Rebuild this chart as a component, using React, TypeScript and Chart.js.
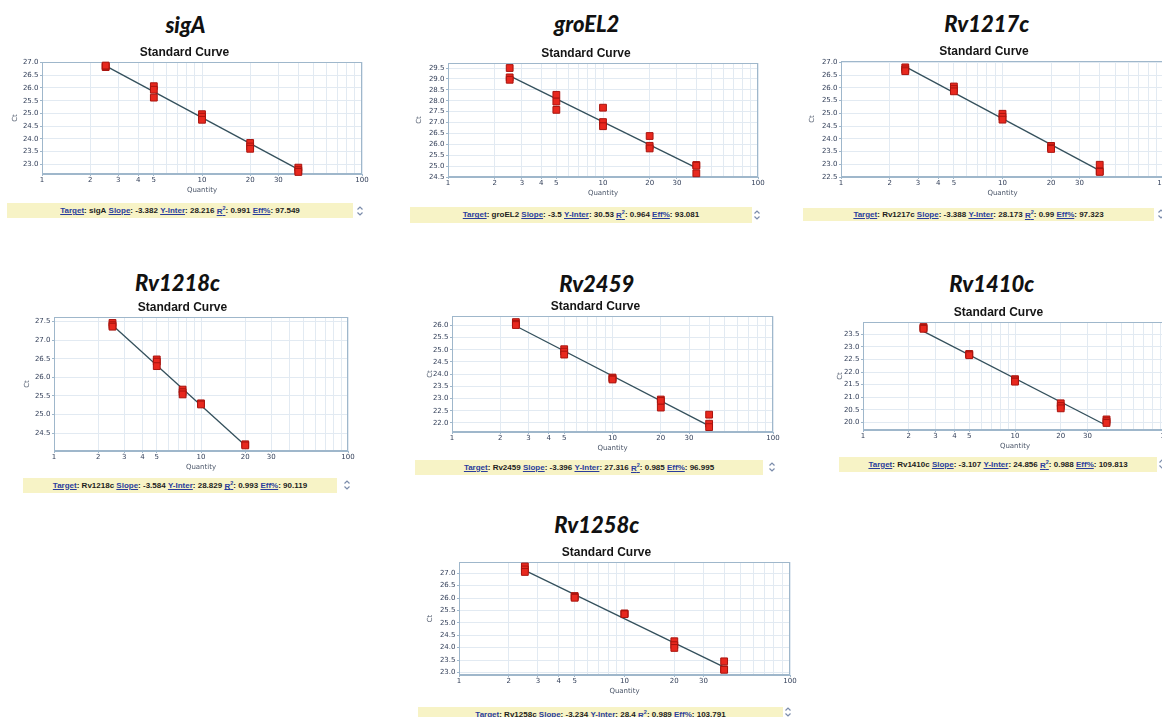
import React, { useEffect, useRef } from "react";
import { Chart, registerables } from "chart.js";
Chart.register(...registerables);

// ---------- shared axis data ----------
const xGridValues = [1, 2, 3, 4, 5, 6, 7, 8, 9, 10, 20, 30, 40, 50, 60, 70, 80, 90, 100];
const xTickLabels = [1, 2, 3, 4, 5, 10, 20, 30, 100];
const xRange = [1, 100];

// ---------- sigA ----------
const sigA_qty = [2.5, 2.5, 2.5, 5, 5, 5, 10, 10, 10, 20, 20, 20, 40, 40, 40];
const sigA_ct = [26.82, 26.85, 26.88, 26.07, 25.93, 25.62, 24.97, 24.87, 24.75, 23.84, 23.7, 23.61, 22.87, 22.77, 22.7];
const sigA_fitQty = [2.5, 40];
const sigA_fitCt = [26.87, 22.8];
const sigA_yRange = [22.62, 27.02];
const sigA_yTicks = [23.0, 23.5, 24.0, 24.5, 25.0, 25.5, 26.0, 26.5, 27.0];
const sigA_stats = ["-3.382", "28.216", "0.991", "97.549"];

// ---------- groEL2 ----------
const groEL2_qty = [2.5, 2.5, 2.5, 5, 5, 5, 10, 10, 10, 20, 20, 20, 40, 40, 40];
const groEL2_ct = [29.5, 29.07, 28.96, 28.27, 27.96, 27.58, 27.68, 27.02, 26.83, 26.38, 25.93, 25.81, 25.05, 25.02, 24.67];
const groEL2_fitQty = [2.5, 40];
const groEL2_fitCt = [29.14, 24.92];
const groEL2_yRange = [24.5, 29.73];
const groEL2_yTicks = [24.5, 25.0, 25.5, 26.0, 26.5, 27.0, 27.5, 28.0, 28.5, 29.0, 29.5];
const groEL2_stats = ["-3.5", "30.53", "0.964", "93.081"];

// ---------- Rv1217c ----------
const Rv1217c_qty = [2.5, 2.5, 2.5, 5, 5, 5, 10, 10, 10, 20, 20, 20, 40, 40, 40];
const Rv1217c_ct = [26.8, 26.72, 26.65, 26.05, 25.95, 25.86, 24.98, 24.86, 24.75, 23.72, 23.65, 23.6, 22.98, 22.72, 22.7];
const Rv1217c_fitQty = [2.5, 40];
const Rv1217c_fitCt = [26.83, 22.75];
const Rv1217c_yRange = [22.5, 27.05];
const Rv1217c_yTicks = [22.5, 23.0, 23.5, 24.0, 24.5, 25.0, 25.5, 26.0, 26.5, 27.0];
const Rv1217c_stats = ["-3.388", "28.173", "0.99", "97.323"];

// ---------- Rv1218c ----------
const Rv1218c_qty = [2.5, 2.5, 2.5, 5, 5, 5, 7.5, 7.5, 7.5, 10, 10, 20, 20];
const Rv1218c_ct = [27.46, 27.4, 27.36, 26.48, 26.42, 26.3, 25.67, 25.6, 25.54, 25.3, 25.27, 24.2, 24.17];
const Rv1218c_fitQty = [2.5, 20];
const Rv1218c_fitCt = [27.4, 24.17];
const Rv1218c_yRange = [24.02, 27.62];
const Rv1218c_yTicks = [24.5, 25.0, 25.5, 26.0, 26.5, 27.0, 27.5];
const Rv1218c_stats = ["-3.584", "28.829", "0.993", "90.119"];

// ---------- Rv2459 ----------
const Rv2459_qty = [2.5, 2.5, 2.5, 5, 5, 5, 10, 10, 10, 20, 20, 20, 40, 40, 40];
const Rv2459_ct = [26.13, 26.06, 26.01, 25.02, 24.92, 24.8, 23.86, 23.82, 23.78, 22.96, 22.9, 22.63, 22.34, 21.97, 21.83];
const Rv2459_fitQty = [2.5, 40];
const Rv2459_fitCt = [25.97, 21.88];
const Rv2459_yRange = [21.63, 26.38];
const Rv2459_yTicks = [22.0, 22.5, 23.0, 23.5, 24.0, 24.5, 25.0, 25.5, 26.0];
const Rv2459_stats = ["-3.396", "27.316", "0.985", "96.995"];

// ---------- Rv1410c ----------
const Rv1410c_qty = [2.5, 2.5, 2.5, 5, 5, 5, 10, 10, 10, 20, 20, 20, 40, 40, 40];
const Rv1410c_ct = [23.79, 23.75, 23.72, 22.72, 22.7, 22.67, 21.72, 21.67, 21.62, 20.76, 20.65, 20.56, 20.12, 20.05, 19.98];
const Rv1410c_fitQty = [2.5, 40];
const Rv1410c_fitCt = [23.62, 19.88];
const Rv1410c_yRange = [19.7, 23.99];
const Rv1410c_yTicks = [20.0, 20.5, 21.0, 21.5, 22.0, 22.5, 23.0, 23.5];
const Rv1410c_stats = ["-3.107", "24.856", "0.988", "109.813"];

// ---------- Rv1258c ----------
const Rv1258c_qty = [2.5, 2.5, 2.5, 5, 5, 5, 10, 10, 10, 20, 20, 20, 40, 40, 40];
const Rv1258c_ct = [27.27, 27.15, 27.05, 26.08, 26.04, 26.01, 25.38, 25.36, 25.35, 24.26, 24.1, 23.99, 23.45, 23.13, 23.11];
const Rv1258c_fitQty = [2.5, 40];
const Rv1258c_fitCt = [27.11, 23.22];
const Rv1258c_yRange = [22.9, 27.45];
const Rv1258c_yTicks = [23.0, 23.5, 24.0, 24.5, 25.0, 25.5, 26.0, 26.5, 27.0];
const Rv1258c_stats = ["-3.234", "28.4", "0.989", "103.791"];

// ---------- styles ----------
const FONT_UI = "'DejaVu Sans', Verdana, sans-serif";
const FONT_HEAD = "'Liberation Sans', Arial, sans-serif";
const FONT_GENE = "Lato, 'Open Sans', sans-serif";
const AXIS_COLOR = "#9fb7cb";
const GRID_COLOR = "#e2eaf2";
const TICK_TEXT = "#34405a";
const AXIS_TITLE = "#4a5568";
const POINT_FILL = "#e8281e";
const POINT_EDGE = "#a8140e";
const LINE_COLOR = "#34505c";
const BAR_BG = "#f7f3c6";
const LINK = "#2a3d9c";

type Box = { l: number; t: number; r: number; b: number };
type Layout = {
  plot: Box;
  tcx: number;
  ctX: number;
  gene: { cx: number; base: number };
  bar: Box;
  spin: { x: number; y: number };
};

const layouts: Record<string, Layout> = {
  sigA: { plot: { l: 41.7, t: 61.7, r: 361.7, b: 174.3 }, tcx: 184.2, ctX: 15, gene: { cx: 185.5, base: 33 }, bar: { l: 7, t: 203, r: 353, b: 218 }, spin: { x: 360, y: 210.5 } },
  groEL2: { plot: { l: 447.7, t: 63.3, r: 757.7, b: 176.7 }, tcx: 585.8, ctX: 419.3, gene: { cx: 586.7, base: 32.5 }, bar: { l: 410, t: 207, r: 752, b: 222.5 }, spin: { x: 756.7, y: 215 } },
  Rv1217c: { plot: { l: 841, t: 61, r: 1164.3, b: 176.7 }, tcx: 984.2, ctX: 811.7, gene: { cx: 986.7, base: 32.5 }, bar: { l: 803, t: 207.5, r: 1154, b: 221 }, spin: { x: 1161, y: 214 } },
  Rv1218c: { plot: { l: 53.7, t: 317.3, r: 347.7, b: 451 }, tcx: 182.5, ctX: 26.7, gene: { cx: 177.5, base: 291.5 }, bar: { l: 23, t: 477.5, r: 337, b: 492.5 }, spin: { x: 346.7, y: 485 } },
  Rv2459: { plot: { l: 452.3, t: 316, r: 773.3, b: 431.7 }, tcx: 595.8, ctX: 430, gene: { cx: 596.7, base: 292 }, bar: { l: 415, t: 459.5, r: 763, b: 475 }, spin: { x: 771.7, y: 467 } },
  Rv1410c: { plot: { l: 863.3, t: 321.7, r: 1166.7, b: 430 }, tcx: 998.3, ctX: 840, gene: { cx: 991.7, base: 292 }, bar: { l: 839, t: 457, r: 1157, b: 471.5 }, spin: { x: 1161.7, y: 464 } },
  Rv1258c: { plot: { l: 459, t: 561.7, r: 790, b: 675 }, tcx: 606.7, ctX: 430, gene: { cx: 596.7, base: 533 }, bar: { l: 418, t: 707, r: 783, b: 722 }, spin: { x: 788, y: 712 } },
};

type PanelSpec = {
  gene: string;
  qty: number[];
  ct: number[];
  fitQty: number[];
  fitCt: number[];
  yRange: number[];
  yTicks: number[];
  stats: string[];
};

const panels: PanelSpec[] = [
  { gene: "sigA", qty: sigA_qty, ct: sigA_ct, fitQty: sigA_fitQty, fitCt: sigA_fitCt, yRange: sigA_yRange, yTicks: sigA_yTicks, stats: sigA_stats },
  { gene: "groEL2", qty: groEL2_qty, ct: groEL2_ct, fitQty: groEL2_fitQty, fitCt: groEL2_fitCt, yRange: groEL2_yRange, yTicks: groEL2_yTicks, stats: groEL2_stats },
  { gene: "Rv1217c", qty: Rv1217c_qty, ct: Rv1217c_ct, fitQty: Rv1217c_fitQty, fitCt: Rv1217c_fitCt, yRange: Rv1217c_yRange, yTicks: Rv1217c_yTicks, stats: Rv1217c_stats },
  { gene: "Rv1218c", qty: Rv1218c_qty, ct: Rv1218c_ct, fitQty: Rv1218c_fitQty, fitCt: Rv1218c_fitCt, yRange: Rv1218c_yRange, yTicks: Rv1218c_yTicks, stats: Rv1218c_stats },
  { gene: "Rv2459", qty: Rv2459_qty, ct: Rv2459_ct, fitQty: Rv2459_fitQty, fitCt: Rv2459_fitCt, yRange: Rv2459_yRange, yTicks: Rv2459_yTicks, stats: Rv2459_stats },
  { gene: "Rv1410c", qty: Rv1410c_qty, ct: Rv1410c_ct, fitQty: Rv1410c_fitQty, fitCt: Rv1410c_fitCt, yRange: Rv1410c_yRange, yTicks: Rv1410c_yTicks, stats: Rv1410c_stats },
  { gene: "Rv1258c", qty: Rv1258c_qty, ct: Rv1258c_ct, fitQty: Rv1258c_fitQty, fitCt: Rv1258c_fitCt, yRange: Rv1258c_yRange, yTicks: Rv1258c_yTicks, stats: Rv1258c_stats },
];

const TITLE_H = 19; // 12 font + 4 top + 3 bottom
const XAXIS_H = 21;
const PAD_R = 12;

const framePlugin = {
  id: "frame",
  beforeDatasetsDraw(chart: any) {
    const { ctx, chartArea } = chart;
    const l = Math.round(chartArea.left) + 0.5;
    const t = Math.round(chartArea.top) + 0.5;
    const r = Math.round(chartArea.right) - 0.5;
    const b = Math.round(chartArea.bottom) - 0.5;
    ctx.save();
    ctx.strokeStyle = AXIS_COLOR;
    ctx.lineWidth = 1;
    ctx.strokeRect(l, t, r - l, b - t);
    ctx.restore();
  },
};

function ChartPanel({ spec }: { spec: PanelSpec }) {
  const ref = useRef<HTMLCanvasElement>(null);
  const L = layouts[spec.gene];
  const cl = Math.round(2 * L.tcx - L.plot.r);
  const yw = Math.round(L.plot.l) - cl;
  const innerR = Math.round(L.plot.r) - cl;
  const W = innerR + PAD_R;
  const ct = Math.round(L.plot.t) - TITLE_H;
  const H = Math.round(L.plot.b) + XAXIS_H - ct;
  const ctPad = Math.max(0, L.ctX - cl - 4.2);

  useEffect(() => {
    if (!ref.current) return;
    const chart = new Chart(ref.current, {
      type: "scatter",
      data: {
        datasets: [
          {
            type: "scatter",
            data: spec.qty.map((q, i) => ({ x: q, y: spec.ct[i] })),
            pointStyle: "rect",
            pointRadius: 4.8,
            backgroundColor: POINT_FILL,
            borderColor: POINT_EDGE,
            borderWidth: 1,
            clip: false as any,
          },
          {
            type: "line",
            data: spec.fitQty.map((q, i) => ({ x: q, y: spec.fitCt[i] })),
            borderColor: LINE_COLOR,
            borderWidth: 1.3,
            pointRadius: 0,
            fill: false,
          } as any,
        ],
      },
      options: {
        responsive: false,
        animation: false,
        devicePixelRatio: 1,
        layout: { padding: { left: 0, top: 0, right: PAD_R, bottom: 0 } },
        plugins: {
          legend: { display: false },
          tooltip: { enabled: false },
          title: {
            display: true,
            text: "Standard Curve",
            color: "#151515",
            font: { family: FONT_HEAD, size: 12, weight: "bold", lineHeight: 1 },
            padding: { top: 4, bottom: 3 },
          },
        },
        scales: {
          x: {
            type: "logarithmic",
            min: xRange[0],
            max: xRange[1],
            afterBuildTicks: (s: any) => {
              s.ticks = xGridValues.map((v) => ({ value: v }));
            },
            afterFit: (s: any) => {
              s.height = XAXIS_H;
            },
            ticks: {
              autoSkip: false,
              maxRotation: 0,
              minRotation: 0,
              padding: 0,
              color: TICK_TEXT,
              font: { family: FONT_UI, size: 7, lineHeight: 1.2 },
              callback: (v: any) => (xTickLabels.includes(Number(v)) ? String(Number(v)) : ""),
            },
            grid: {
              color: GRID_COLOR,
              tickLength: 2,
              tickColor: (c: any) =>
                c.tick && xTickLabels.includes(c.tick.value) ? AXIS_COLOR : "rgba(0,0,0,0)",
            },
            border: { color: AXIS_COLOR },
            title: {
              display: true,
              text: "Quantity",
              color: AXIS_TITLE,
              font: { family: FONT_UI, size: 7, lineHeight: 1.2 },
              padding: { top: 0, bottom: 0.5 },
            },
          },
          y: {
            type: "linear",
            min: spec.yRange[0],
            max: spec.yRange[1],
            afterBuildTicks: (s: any) => {
              s.ticks = spec.yTicks.map((v) => ({ value: v }));
            },
            afterFit: (s: any) => {
              s.width = yw;
            },
            ticks: {
              padding: 1.5,
              color: TICK_TEXT,
              font: { family: FONT_UI, size: 7, lineHeight: 1.2 },
              callback: (v: any) => Number(v).toFixed(1),
            },
            grid: { color: GRID_COLOR, tickLength: 2, tickColor: AXIS_COLOR },
            border: { color: AXIS_COLOR },
            title: {
              display: true,
              text: "Ct",
              color: AXIS_TITLE,
              font: { family: FONT_UI, size: 7, lineHeight: 1.2 },
              padding: { top: ctPad, bottom: 0 },
            },
          },
        },
      },
      plugins: [framePlugin],
    } as any);
    return () => chart.destroy();
  }, []);

  return (
    <canvas
      ref={ref}
      width={W}
      height={H}
      style={{ position: "absolute", left: cl, top: ct, width: W, height: H }}
    />
  );
}

function Spinner({ x, y }: { x: number; y: number }) {
  return (
    <svg
      width={8}
      height={12}
      style={{ position: "absolute", left: x - 4, top: y - 6 }}
      viewBox="0 0 8 12"
    >
      <polyline points="1.5,4.5 4,2 6.5,4.5" fill="none" stroke="#7b8cab" strokeWidth={1.2} />
      <polyline points="1.5,7.5 4,10 6.5,7.5" fill="none" stroke="#7b8cab" strokeWidth={1.2} />
    </svg>
  );
}

function Panel({ spec }: { spec: PanelSpec }) {
  const L = layouts[spec.gene];
  const lbl: React.CSSProperties = { color: LINK, textDecoration: "underline" };
  return (
    <>
      <div
        style={{
          position: "absolute",
          left: L.gene.cx,
          top: L.gene.base - 19.5,
          transform: "translateX(-50%)",
          font: `italic 900 22px ${FONT_GENE}`,
          lineHeight: "22px",
          color: "#111",
          whiteSpace: "nowrap",
        }}
      >
        {spec.gene}
      </div>
      <ChartPanel spec={spec} />
      <div
        style={{
          position: "absolute",
          left: L.bar.l,
          top: L.bar.t,
          width: L.bar.r - L.bar.l,
          height: L.bar.b - L.bar.t,
          background: BAR_BG,
          display: "flex",
          alignItems: "center",
          justifyContent: "center",
          font: `bold 8px ${FONT_HEAD}`,
          color: "#1d1d1d",
          whiteSpace: "nowrap",
        }}
      >
        <span style={lbl}>Target</span>: {spec.gene}&nbsp;
        <span style={lbl}>Slope</span>: {spec.stats[0]}&nbsp;
        <span style={lbl}>Y-Inter</span>: {spec.stats[1]}&nbsp;
        <span style={lbl}>
          R<sup style={{ fontSize: "5.5px" }}>2</sup>
        </span>
        : {spec.stats[2]}&nbsp;
        <span style={lbl}>Eff%</span>: {spec.stats[3]}
      </div>
      <Spinner x={L.spin.x} y={L.spin.y} />
    </>
  );
}

export default function App() {
  return (
    <div
      style={{
        position: "absolute",
        left: 0,
        top: 0,
        width: 1162,
        height: 717,
        overflow: "hidden",
        background: "#ffffff",
      }}
    >
      {panels.map((p) => (
        <Panel key={p.gene} spec={p} />
      ))}
    </div>
  );
}
